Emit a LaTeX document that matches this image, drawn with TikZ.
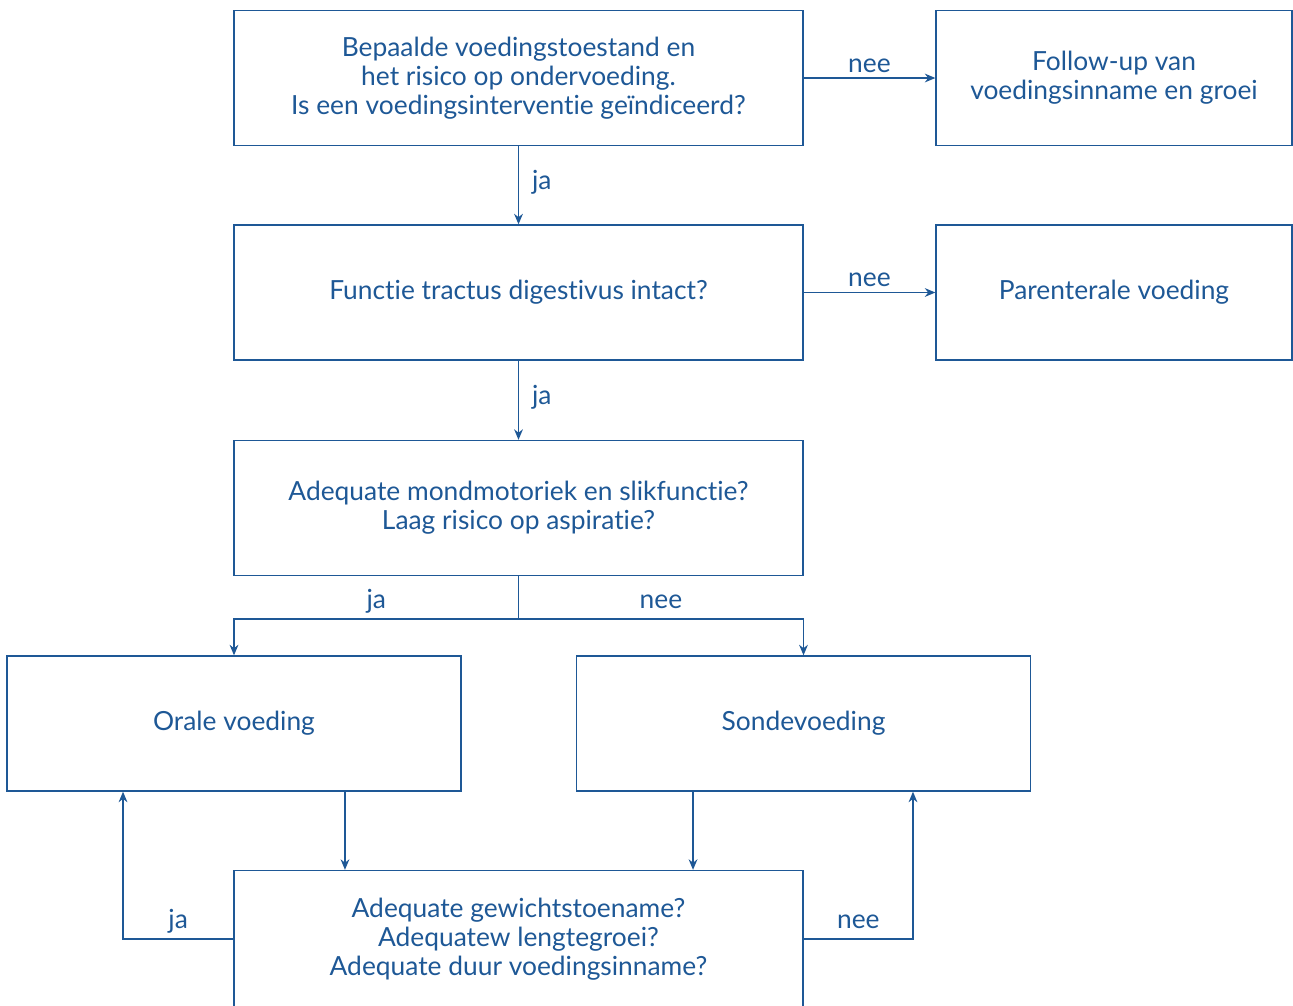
\documentclass[tikz,border=0pt]{standalone}
\usepackage{fontspec}
\setmainfont[Ligatures=NoCommon]{Lato}
\usetikzlibrary{arrows.meta,calc}
\definecolor{flowblue}{RGB}{30,88,150}
\tikzset{
    box/.style={draw=flowblue, line width=0.8pt, minimum height=2.7cm,
                minimum width=11.38cm, inner sep=0pt, align=center,
                text=flowblue, font=\fontsize{15}{16.5}\selectfont},
    endbox/.style={box, minimum width=7.12cm},
    sidebox/.style={box, minimum width=9.08cm},
    flow/.style={-{Stealth[length=6pt,width=5pt]}, draw=flowblue, line width=0.8pt},
    link/.style={draw=flowblue, line width=0.8pt},
    note/.style={text=flowblue, font=\fontsize{15}{16.5}\selectfont,
                 text height=0.75em, text depth=0.25em},
}

\begin{document}
\begin{tikzpicture}[x=0.02cm, y=-0.02cm]
    \clip (0,0) rectangle (1293,1005);

    \node[box] (start) at (518.5,78) {Bepaalde voedingstoestand en\\het risico op ondervoeding.\\Is een voedingsinterventie geïndiceerd?};
    \node[endbox] (followup) at (1114,78) {Follow-up van\\voedingsinname en groei};
    \node[box] (tract) at (518.5,292.5) {Functie tractus digestivus intact?};
    \node[endbox] (parenteral) at (1114,292.5) {Parenterale voeding};
    \node[box] (mond) at (518.5,508) {Adequate mondmotoriek en slikfunctie?\\Laag risico op aspiratie?};
    \node[sidebox] (orale) at (234,723.5) {Orale voeding};
    \node[sidebox] (sonde) at (803.5,723.5) {Sondevoeding};
    \node[box, minimum height=2.74cm] (check) at (518.5,939) {Adequate gewichtstoename?\\Adequatew lengtegroei?\\Adequate duur voedingsinname?};

    \draw[flow] (start.east) -- node[above=-3pt,note] {nee} (followup.west);
    \draw[flow] (start.south) -- node[right=4pt,note] {ja} (tract.north);
    \draw[flow] (tract.east) -- node[above=-3pt,note] {nee} (parenteral.west);
    \draw[flow] (tract.south) -- node[right=4pt,note] {ja} (mond.north);

    % split under the swallowing question
    \coordinate (split) at (518.5,619);
    \draw[link] (mond.south) -- (split);
    \draw[flow] (split) -| node[pos=0.25,above=0pt,note] {ja} (orale.north);
    \draw[flow] (split) -| node[pos=0.25,above=0pt,note] {nee} (sonde.north);

    % down into the check and back up
    \draw[flow] ([xshift=2.22cm]orale.south) -- ([xshift=2.22cm]orale.south |- check.north);
    \draw[flow] ([xshift=-2.21cm]sonde.south) -- ([xshift=-2.21cm]sonde.south |- check.north);
    \draw[flow] (check.west) -| node[pos=0.25,above=0pt,note] {ja} ([xshift=-2.22cm]orale.south);
    \draw[flow] (check.east) -| node[pos=0.25,above=0pt,note] {nee} ([xshift=2.19cm]sonde.south);
\end{tikzpicture}
\end{document}
